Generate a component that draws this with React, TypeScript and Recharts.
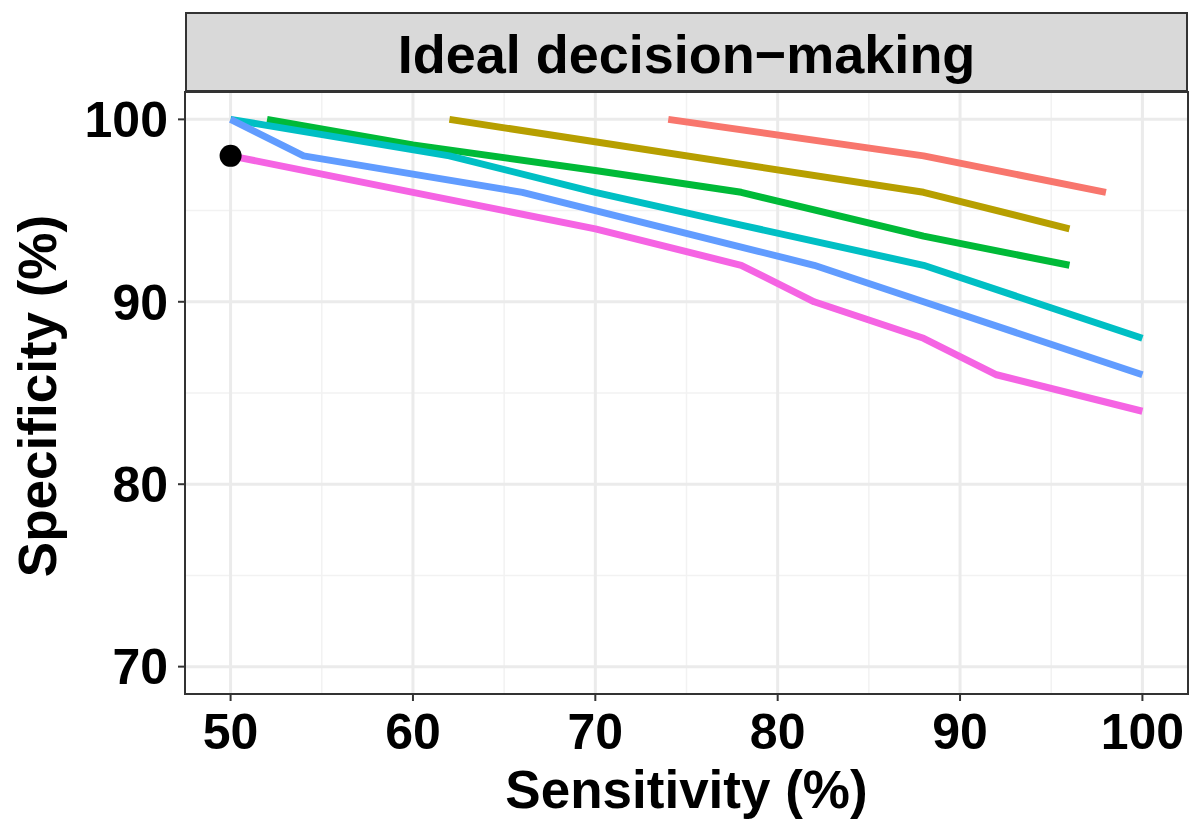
import React from "react";
import {
  ComposedChart,
  Line,
  XAxis,
  YAxis,
  CartesianGrid,
  ReferenceArea,
  Scatter,
} from "recharts";

const xTicks = [50, 60, 70, 80, 90, 100];
const yTicks = [70, 80, 90, 100];
const xMinor = [55, 65, 75, 85, 95];
const yMinor = [75, 85, 95];

const redSeries = [
  { x: 74, y: 100 },
  { x: 88, y: 98 },
  { x: 98, y: 96 },
];
const goldSeries = [
  { x: 62, y: 100 },
  { x: 88, y: 96 },
  { x: 96, y: 94 },
];
const greenSeries = [
  { x: 52, y: 100 },
  { x: 60, y: 98.6 },
  { x: 70, y: 97.2 },
  { x: 78, y: 96 },
  { x: 88, y: 93.6 },
  { x: 96, y: 92 },
];
const tealSeries = [
  { x: 50, y: 100 },
  { x: 62, y: 98 },
  { x: 70, y: 96 },
  { x: 78, y: 94.2 },
  { x: 88, y: 92 },
  { x: 100, y: 88 },
];
const blueSeries = [
  { x: 50, y: 100 },
  { x: 54, y: 98 },
  { x: 60, y: 97 },
  { x: 66, y: 96 },
  { x: 70, y: 95 },
  { x: 78, y: 93 },
  { x: 82, y: 92 },
  { x: 88, y: 90 },
  { x: 100, y: 86 },
];
const magentaSeries = [
  { x: 50, y: 98 },
  { x: 60, y: 96 },
  { x: 70, y: 94 },
  { x: 78, y: 92 },
  { x: 82, y: 90 },
  { x: 88, y: 88 },
  { x: 92, y: 86 },
  { x: 100, y: 84 },
];
const humanPoint = [{ x: 50, y: 98 }];

const series = [
  { name: "s1", data: redSeries, color: "#F8766D" },
  { name: "s2", data: goldSeries, color: "#B79F00" },
  { name: "s3", data: greenSeries, color: "#00BA38" },
  { name: "s4", data: tealSeries, color: "#00BFC4" },
  { name: "s5", data: blueSeries, color: "#619CFF" },
  { name: "s6", data: magentaSeries, color: "#F564E3" },
];

const FONT = "'Liberation Sans', Arial, Helvetica, sans-serif";

const W = 1190;
const H = 823;

export default function App() {
  return (
    <div
      style={{
        position: "absolute",
        left: 0,
        top: 0,
        width: W,
        height: H,
        background: "#fff",
        fontFamily: FONT,
      }}
    >
      <ComposedChart
        width={W}
        height={H}
        margin={{ top: 92, right: 2, bottom: 4, left: 5 }}
      >
        <CartesianGrid
          verticalValues={xMinor}
          horizontalValues={yMinor}
          stroke="#F2F2F2"
          strokeWidth={1.5}
          fill="#fff"
        />
        <CartesianGrid
          verticalValues={xTicks}
          horizontalValues={yTicks}
          stroke="#EBEBEB"
          strokeWidth={3}
        />
        <XAxis
          type="number"
          dataKey="x"
          domain={[47.5, 102.5]}
          ticks={xTicks}
          allowDataOverflow
          height={125}
          axisLine={false}
          tickLine={{ stroke: "#333333", strokeWidth: 2 }}
          tickSize={7}
          tickMargin={12}
          tick={{ fill: "#000", fontSize: 50, fontWeight: 700, fontFamily: FONT }}
        />
        <YAxis
          type="number"
          dataKey="y"
          domain={[68.5, 101.5]}
          ticks={yTicks}
          allowDataOverflow
          width={180}
          axisLine={false}
          tickLine={{ stroke: "#333333", strokeWidth: 2 }}
          tickSize={7}
          tickMargin={10}
          tick={{ fill: "#000", fontSize: 50, fontWeight: 700, fontFamily: FONT }}
        />
        {series.map((s) => (
          <Line
            key={s.name}
            data={s.data}
            dataKey="y"
            type="linear"
            stroke={s.color}
            strokeWidth={7}
            strokeLinejoin="round"
            dot={false}
            activeDot={false}
            isAnimationActive={false}
          />
        ))}
        <Scatter
          data={humanPoint}
          dataKey="y"
          fill="#000"
          isAnimationActive={false}
          shape={(p: any) => <circle cx={p.cx} cy={p.cy} r={11} fill="#000" />}
        />
        <ReferenceArea
          x1={47.5}
          x2={102.5}
          y1={68.5}
          y2={101.5}
          fill="none"
          stroke="#333333"
          strokeWidth={2}
          ifOverflow="visible"
        />
      </ComposedChart>
      <svg
        width={W}
        height={H}
        style={{ position: "absolute", left: 0, top: 0, pointerEvents: "none" }}
      >
        <rect x={186} y={13} width={1001} height={78} fill="#D9D9D9" stroke="#333333" strokeWidth={2} />
        <text
          x={686.5}
          y={73}
          textAnchor="middle"
          fontFamily={FONT}
          fontWeight={700}
          fontSize={54}
          fill="#000"
        >
          Ideal decision−making
        </text>
        <text
          x={686.5}
          y={808}
          textAnchor="middle"
          fontFamily={FONT}
          fontWeight={700}
          fontSize={53}
          fill="#000"
        >
          Sensitivity (%)
        </text>
        <text
          x={56}
          y={396}
          textAnchor="middle"
          transform="rotate(-90 56 396)"
          fontFamily={FONT}
          fontWeight={700}
          fontSize={53}
          fill="#000"
        >
          Specificity (%)
        </text>
      </svg>
    </div>
  );
}
